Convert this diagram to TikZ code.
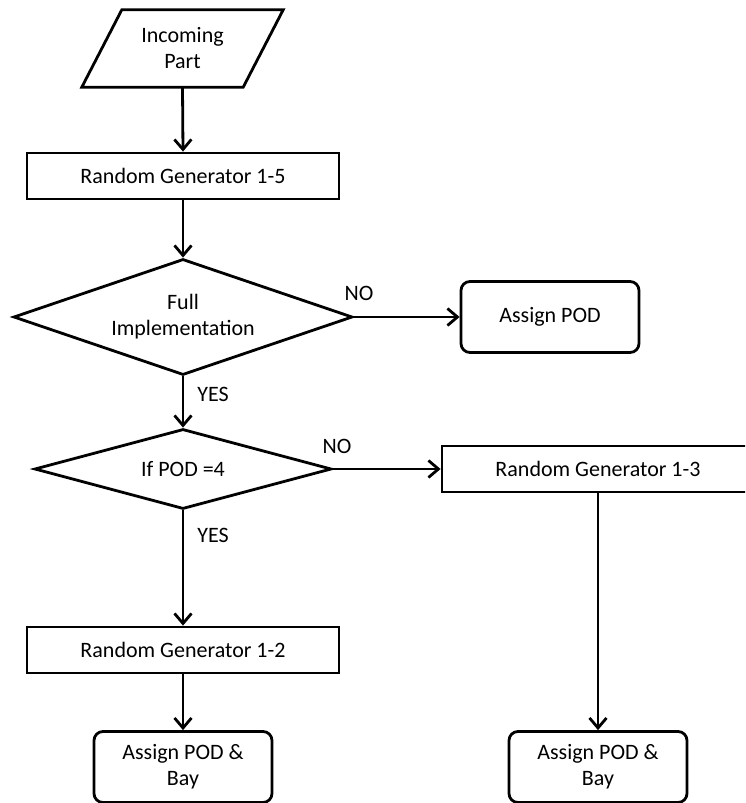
\documentclass[tikz,border=0pt]{standalone}
\usepackage{fontspec}
\setmainfont{Carlito}
\usetikzlibrary{shapes.geometric,arrows.meta}
\begin{document}
\begin{tikzpicture}[x=1pt,y=-1pt,
  every node/.style={font=\fontsize{22}{26}\selectfont, align=center, inner sep=0pt},
  box/.style={draw, line width=2.8pt, minimum width=312pt, minimum height=46pt},
  rbox/.style={draw, line width=2.8pt, rounded corners=9pt, minimum width=178pt, minimum height=71pt},
  dec/.style={draw, diamond, aspect=3, line width=2.8pt},
  arr/.style={-{Straight Barb[length=10pt,width=17pt]}, line width=2.8pt},
  lbl/.style={}]
\clip (0,0) rectangle (745,803);
% input parallelogram
\node[minimum width=161pt, minimum height=77pt] (inc) at (182.5,48.5) {Incoming\\Part};
\draw[line width=2.8pt, line join=miter]
  ([xshift=20pt]inc.north west) -- ([xshift=20pt]inc.north east)
  -- ([xshift=-20pt]inc.south east) -- ([xshift=-20pt]inc.south west) -- cycle;
\node[box] (rg5) at (183,176) {Random Generator 1-5};
\node[dec, minimum width=339pt, minimum height=116pt] (d1) at (183,317) {Full\\Implementation};
\node[rbox] (ap) at (550,317) {Assign POD};
\node[dec, minimum width=297pt, minimum height=80pt] (d2) at (183,469) {If POD =4};
\node[box] (rg3) at (598,469) {Random Generator 1-3};
\node[box] (rg2) at (183,650) {Random Generator 1-2};
\node[rbox] (apb1) at (183,767) {Assign POD \&\\Bay};
\node[rbox] (apb2) at (598,767) {Assign POD \&\\Bay};
% labels
\node[lbl] (no1) at (359,293) {NO};
\node[lbl] (yes1) at (213,394) {YES};
\node[lbl] (no2) at (337,446) {NO};
\node[lbl] (yes2) at (213,535) {YES};
% connectors
\draw[arr] (inc.south) -- (rg5.north);
\draw[arr] (rg5.south) -- (d1.north);
\draw[arr] (d1.east) -- (ap.west);
\draw[arr] (d1.south) -- (d2.north);
\draw[arr] (d2.east) -- (rg3.west);
\draw[arr] (d2.south) -- (rg2.north);
\draw[arr] (rg2.south) -- (apb1.north);
\draw[arr] (rg3.south) -- (apb2.north);
\end{tikzpicture}
\end{document}
